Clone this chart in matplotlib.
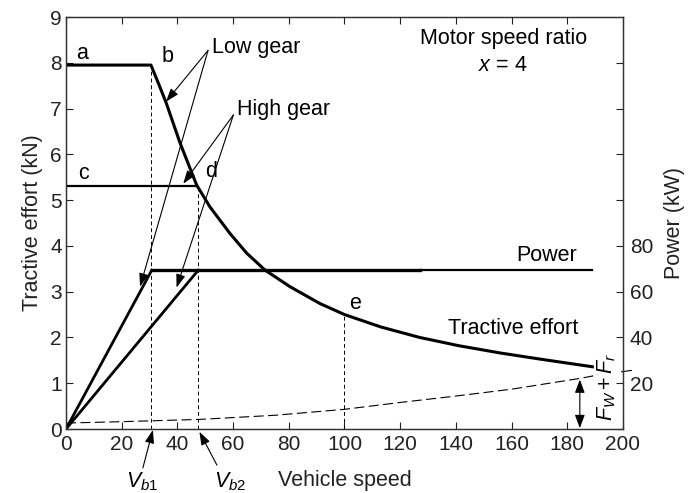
import matplotlib
matplotlib.use('Agg')
import matplotlib.pyplot as plt

plt.rcParams['font.family'] = ['Liberation Sans', 'DejaVu Sans']
plt.rcParams['mathtext.fontset'] = 'custom'
plt.rcParams['mathtext.rm'] = 'Liberation Sans'
plt.rcParams['mathtext.it'] = 'Liberation Sans:italic'

# tractive effort curve (kN) vs vehicle speed (km/h)
speed_te = [0, 30.5, 33, 36, 41, 46.9, 51.7, 58.9, 64.9, 71.5, 80.4, 91.2, 100, 113, 127, 141, 156, 171, 184.5, 189]
force_te = [7.95, 7.95, 7.58, 7.12, 6.24, 5.33, 4.85, 4.27, 3.84, 3.47, 3.11, 2.74, 2.50, 2.23, 2.0, 1.82, 1.66, 1.52, 1.40, 1.36]

# high gear constant torque line
speed_hi = [0, 47]
force_hi = [5.31, 5.31]

# power (kW)
speed_pw_low = [0, 30.8]
power_low = [0, 69.4]
speed_pw_high = [0, 47.5]
power_high = [0, 69.4]
speed_pw_flat1 = [30.8, 127]
speed_pw_flat2 = [127, 189]
power_flat = [69.4, 69.4]

# resistance Fw + Fr (kN)
speed_res = [0, 20, 48, 75, 100, 120, 140, 160, 185, 191]
force_res = [0.13, 0.16, 0.21, 0.3, 0.43, 0.58, 0.72, 0.87, 1.11, 1.18]
speed_res_tail = [199.5, 203]
force_res_tail = [1.25, 1.28]

# vertical markers: speed, height
v_marks = [30.5, 47.5, 100]
v_tops = [7.95, 5.31, 2.49]

xticks = [0, 20, 40, 60, 80, 100, 120, 140, 160, 180, 200]
yticks = [0, 1, 2, 3, 4, 5, 6, 7, 8, 9]
pticks = [0, 20, 40, 60, 80, 100, 120, 140, 160]
plabels = ['', '20', '40', '60', '80', '', '', '', '']

fig = plt.figure(figsize=(6.89, 4.93), dpi=100)
ax = fig.add_axes([0.0958, 0.1298, 0.8084, 0.8357])
ax2 = ax.twinx()

ax.plot(speed_te, force_te, color='black', lw=2.2, solid_joinstyle='round')
ax.plot(speed_hi, force_hi, color='black', lw=1.6)
ax.plot(speed_res, force_res, color='black', lw=0.8, linestyle=(0, (9, 4)))
ax.plot(speed_res_tail, force_res_tail, color='black', lw=0.8, clip_on=False)
for v, t in zip(v_marks, v_tops):
    ax.plot([v, v], [0, t], color='black', lw=0.7, linestyle=(0, (4, 3)))

ax2.plot(speed_pw_low, power_low, color='black', lw=2.0)
ax2.plot(speed_pw_high, power_high, color='black', lw=2.0)
ax2.plot(speed_pw_flat1, power_flat, color='black', lw=2.4)
ax2.plot(speed_pw_flat2, power_flat, color='black', lw=1.6)

ax.set_xlim(0, 200)
ax.set_ylim(0, 9)
ax2.set_ylim(0, 180)
ax.set_xticks(xticks)
ax.set_yticks(yticks)
ax2.set_yticks(pticks)
ax2.set_yticklabels(plabels)

ax.tick_params(axis='both', direction='in', length=5, width=0.8, labelsize=15,
               top=True, colors='#222222')
ax.tick_params(axis='x', pad=4.5)
ax.tick_params(axis='y', pad=3)
ax2.tick_params(axis='y', direction='in', length=5, width=0.8, labelsize=15, pad=5,
                colors='#222222')
for a in (ax, ax2):
    for s in a.spines.values():
        s.set_linewidth(0.9)
        s.set_color('#333333')

fs = 15.5
ax.set_xlabel('Vehicle speed', fontsize=fs, labelpad=11, color='#222222')
ax.set_ylabel('Tractive effort (kN)', fontsize=fs, labelpad=5, color='#222222')
ax2.set_ylabel('Power (kW)', fontsize=fs, labelpad=8, color='#222222')

ax.text(3.8, 8.2, 'a', fontsize=fs, va='center')
ax.text(34.4, 8.13, 'b', fontsize=fs, va='center')
ax.text(4.4, 5.59, 'c', fontsize=fs, va='center')
ax.text(50, 5.62, 'd', fontsize=fs, va='center')
ax.text(101.5, 2.75, 'e', fontsize=fs, va='center')
ax.text(52.3, 8.34, 'Low gear', fontsize=fs, va='center')
ax.text(61.5, 6.98, 'High gear', fontsize=fs, va='center')
ax.text(157, 8.54, 'Motor speed ratio', fontsize=fs, ha='center', va='center')
ax.text(157, 7.95, r'$x$ = 4', fontsize=fs, ha='center', va='center')
ax.text(172.7, 3.8, 'Power', fontsize=fs, ha='center', va='center')
ax.text(160.5, 2.2, 'Tractive effort', fontsize=fs, ha='center', va='center')
ax.text(194, 0.93, r'$F_W + F_r$', fontsize=fs, rotation=90, ha='center', va='center')
ax.text(27.5, -1.15, r'$V_{b1}$', fontsize=fs, ha='center', va='center', clip_on=False)
ax.text(59, -1.15, r'$V_{b2}$', fontsize=fs, ha='center', va='center', clip_on=False)

arr = dict(arrowstyle='-|>,head_length=0.8,head_width=0.28', color='black', lw=0.8,
           shrinkA=0, shrinkB=0, mutation_scale=10)
ax.annotate('', xy=(35.9, 7.15), xytext=(51, 8.27), arrowprops=arr)
ax.annotate('', xy=(26.6, 3.11), xytext=(51, 8.27), arrowprops=arr)
ax.annotate('', xy=(42.1, 5.36), xytext=(60.1, 6.86), arrowprops=arr)
ax.annotate('', xy=(39.7, 3.09), xytext=(60.1, 6.86), arrowprops=arr)
ax.annotate('', xy=(31.2, -0.02), xytext=(27.6, -0.85), arrowprops=arr, annotation_clip=False)
ax.annotate('', xy=(47.9, -0.06), xytext=(54.2, -0.79), arrowprops=arr, annotation_clip=False)
ax.annotate('', xy=(184.5, 0.02), xytext=(184.5, 1.08),
            arrowprops=dict(arrowstyle='<|-|>,head_length=0.8,head_width=0.3', color='black',
                            lw=0.8, shrinkA=0, shrinkB=0, mutation_scale=10))

fig.savefig('out.png', dpi=100)
